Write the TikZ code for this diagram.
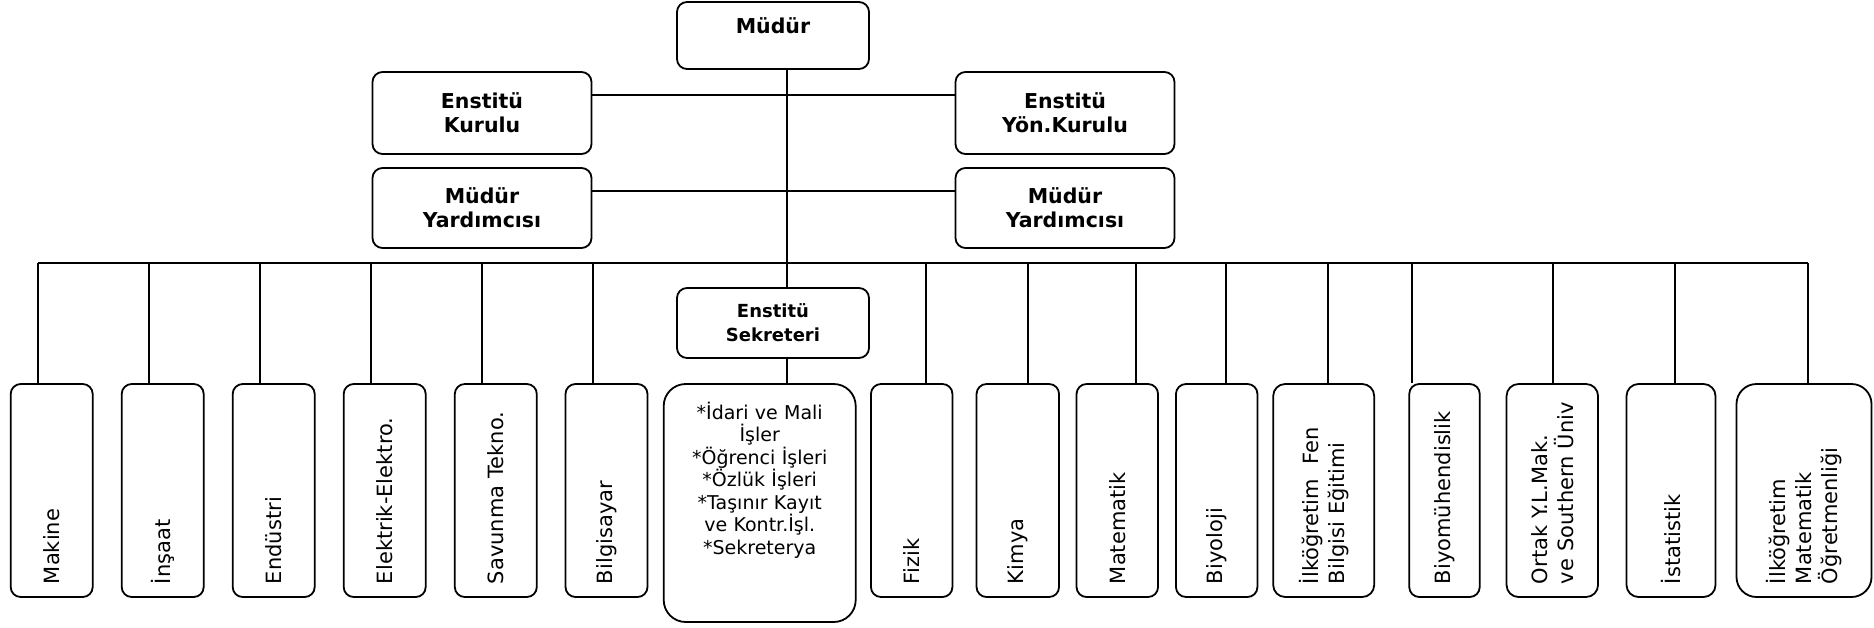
\documentclass[tikz,border=0pt]{standalone}
\usepackage{fontspec}
\setmainfont{DejaVu Sans}
\begin{document}
\begin{tikzpicture}[x=1pt,y=-1pt,
		unitbox/.style={draw,line width=1.8pt,rounded corners=10pt,inner sep=0pt,align=center,font=\bfseries\fontsize{20.5}{24}\selectfont},
		deptbox/.style={draw,line width=1.8pt,rounded corners=10pt,rotate=90,minimum width=213pt,inner xsep=13pt,inner ysep=0pt,text width=187pt,align=left,font=\fontsize{21}{26}\selectfont},
		conn/.style={line width=1.7pt}]
	\useasboundingbox (0,0) rectangle (1874,627);
	\node [unitbox,minimum width=192pt,text height=31pt,text depth=36pt] (mudur) at (773,35.5) {Müdür};
	\node [unitbox,minimum width=219pt,minimum height=82pt] (kurul) at (482,113) {Enstitü\\Kurulu};
	\node [unitbox,minimum width=219pt,minimum height=82pt] (yon) at (1065,113) {Enstitü\\Yön.Kurulu};
	\node [unitbox,minimum width=219pt,minimum height=80pt] (yard1) at (482,208) {Müdür\\Yardımcısı};
	\node [unitbox,minimum width=219pt,minimum height=80pt] (yard2) at (1065,208) {Müdür\\Yardımcısı};
	\node [unitbox,font=\bfseries\fontsize{18}{24}\selectfont,minimum width=192pt,minimum height=70pt] (sekr) at (773,323) {Enstitü\\Sekreteri};
	\node [unitbox,font=\fontsize{19}{22.5}\selectfont,rounded corners=22pt,text width=192pt,text height=35pt,text depth=203pt] (islem) at (759.7,503) {*İdari ve Mali\\İşler\\{}*Öğrenci İşleri\\{}*Özlük İşleri\\{}*Taşınır Kayıt\\ve Kontr.İşl.\\{}*Sekreterya};
	\node [deptbox,minimum height=82pt] (mak) at (51.7,490.5) {Makine};
	\node [deptbox,minimum height=82pt] (ins) at (162.7,490.5) {İnşaat};
	\node [deptbox,minimum height=82pt] (end) at (273.7,490.5) {Endüstri};
	\node [deptbox,minimum height=82pt] (ele) at (384.7,490.5) {Elektrik-Elektro.};
	\node [deptbox,minimum height=82pt] (sav) at (495.8,490.5) {Savunma Tekno.};
	\node [deptbox,minimum height=82pt] (bil) at (606.5,490.5) {Bilgisayar};
	\node [deptbox,minimum height=81.5pt] (fiz) at (911.7,490.5) {Fizik};
	\node [deptbox,minimum height=82.5pt] (kim) at (1017.8,490.5) {Kimya};
	\node [deptbox,minimum height=81.5pt] (mat) at (1117.3,490.5) {Matematik};
	\node [deptbox,minimum height=81.5pt] (biy) at (1216.7,490.5) {Biyoloji};
	\node [deptbox,minimum height=101pt,rounded corners=12pt] (fen) at (1323.7,490.5) {İlköğretim\ \ Fen\\Bilgisi Eğitimi};
	\node [deptbox,minimum height=70.5pt] (bmh) at (1444.5,490.5) {Biyomühendislik};
	\node [deptbox,minimum height=91.5pt,rounded corners=12pt] (ort) at (1552.3,490.5) {Ortak Y.L.Mak.\\ ve Southern Üniv};
	\node [deptbox,minimum height=89pt,rounded corners=12pt] (ist) at (1671,490.5) {İstatistik};
	\node [deptbox,minimum height=135pt,rounded corners=20pt] (ilm) at (1804,490.5) {İlköğretim\\Matematik\\Öğretmenliği};
	\coordinate (spine) at (787,0);
	\coordinate (busL) at (37.7,262.7);
	\coordinate (busR) at (1808,262.7);
	\draw [conn] (mudur.south -| spine) -- (sekr.north -| spine);
	\draw [conn] (sekr.south -| spine) -- (islem.north -| spine);
	\draw [conn] ([yshift=18pt]kurul.east) -- ([yshift=18pt]yon.west);
	\draw [conn] ([yshift=17pt]yard1.east) -- ([yshift=17pt]yard2.west);
	\draw [conn] (busL) -- (busR);
	\foreach \b/\d in {mak/-14,ins/-14,end/-14,ele/-14,sav/-14,bil/-13.8,fiz/14,kim/9.9,mat/18.4,biy/9.3,fen/4,bmh/-32.8,ort/0.4,ist/3.7,ilm/4}
		\draw [conn] ([xshift=\d pt]\b.east) -- ([xshift=\d pt]\b.east |- busL);
\end{tikzpicture}
\end{document}
